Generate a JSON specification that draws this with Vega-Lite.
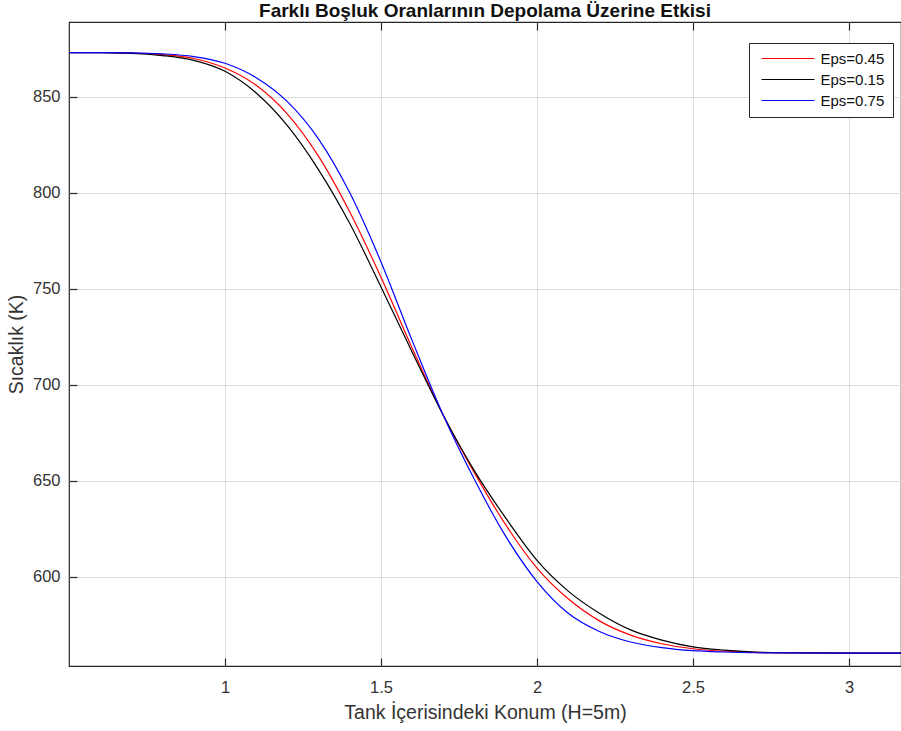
{
  "$schema": "https://vega.github.io/schema/vega-lite/v6.json",
  "width": 832,
  "height": 644,
  "autosize": {"type": "none"},
  "padding": {"left": 69, "top": 22, "right": 0, "bottom": 65},
  "background": "white",
  "title": {
    "text": "Farklı Boşluk Oranlarının Depolama Üzerine Etkisi",
    "font": "Liberation Sans",
    "fontSize": 19,
    "fontWeight": "bold",
    "color": "#111111",
    "anchor": "middle",
    "offset": 5,
    "dy": 5
  },
  "config": {
    "view": {"stroke": "#262626", "strokeWidth": 1.2},
    "font": "Liberation Sans"
  },
  "data": {
    "values": [
      {"x": 0.5, "T": 873, "eps": "Eps=0.45"},
      {"x": 0.6, "T": 873, "eps": "Eps=0.45"},
      {"x": 0.7, "T": 872.8, "eps": "Eps=0.45"},
      {"x": 0.8, "T": 872, "eps": "Eps=0.45"},
      {"x": 0.9, "T": 870, "eps": "Eps=0.45"},
      {"x": 1.0, "T": 865, "eps": "Eps=0.45"},
      {"x": 1.1, "T": 856, "eps": "Eps=0.45"},
      {"x": 1.2, "T": 841, "eps": "Eps=0.45"},
      {"x": 1.3, "T": 819, "eps": "Eps=0.45"},
      {"x": 1.4, "T": 790, "eps": "Eps=0.45"},
      {"x": 1.5, "T": 756, "eps": "Eps=0.45"},
      {"x": 1.6, "T": 719, "eps": "Eps=0.45"},
      {"x": 1.7, "T": 684, "eps": "Eps=0.45"},
      {"x": 1.8, "T": 654, "eps": "Eps=0.45"},
      {"x": 1.9, "T": 627, "eps": "Eps=0.45"},
      {"x": 2.0, "T": 604.5, "eps": "Eps=0.45"},
      {"x": 2.1, "T": 588.5, "eps": "Eps=0.45"},
      {"x": 2.2, "T": 577, "eps": "Eps=0.45"},
      {"x": 2.3, "T": 569.6, "eps": "Eps=0.45"},
      {"x": 2.4, "T": 565.1, "eps": "Eps=0.45"},
      {"x": 2.5, "T": 562.5, "eps": "Eps=0.45"},
      {"x": 2.6, "T": 561.2, "eps": "Eps=0.45"},
      {"x": 2.7, "T": 560.6, "eps": "Eps=0.45"},
      {"x": 2.8, "T": 560.3, "eps": "Eps=0.45"},
      {"x": 3.0, "T": 560.2, "eps": "Eps=0.45"},
      {"x": 3.2, "T": 560.2, "eps": "Eps=0.45"},

      {"x": 0.5, "T": 873, "eps": "Eps=0.15"},
      {"x": 0.6, "T": 873, "eps": "Eps=0.15"},
      {"x": 0.7, "T": 872.7, "eps": "Eps=0.15"},
      {"x": 0.8, "T": 871.5, "eps": "Eps=0.15"},
      {"x": 0.9, "T": 869, "eps": "Eps=0.15"},
      {"x": 1.0, "T": 863.3, "eps": "Eps=0.15"},
      {"x": 1.1, "T": 852, "eps": "Eps=0.15"},
      {"x": 1.2, "T": 835, "eps": "Eps=0.15"},
      {"x": 1.3, "T": 812, "eps": "Eps=0.15"},
      {"x": 1.4, "T": 784, "eps": "Eps=0.15"},
      {"x": 1.5, "T": 751, "eps": "Eps=0.15"},
      {"x": 1.6, "T": 717, "eps": "Eps=0.15"},
      {"x": 1.7, "T": 684, "eps": "Eps=0.15"},
      {"x": 1.8, "T": 655, "eps": "Eps=0.15"},
      {"x": 1.9, "T": 630.5, "eps": "Eps=0.15"},
      {"x": 2.0, "T": 608.5, "eps": "Eps=0.15"},
      {"x": 2.1, "T": 592.5, "eps": "Eps=0.15"},
      {"x": 2.2, "T": 581, "eps": "Eps=0.15"},
      {"x": 2.3, "T": 572.3, "eps": "Eps=0.15"},
      {"x": 2.4, "T": 567, "eps": "Eps=0.15"},
      {"x": 2.5, "T": 563.5, "eps": "Eps=0.15"},
      {"x": 2.6, "T": 561.8, "eps": "Eps=0.15"},
      {"x": 2.7, "T": 560.8, "eps": "Eps=0.15"},
      {"x": 2.8, "T": 560.4, "eps": "Eps=0.15"},
      {"x": 3.0, "T": 560.2, "eps": "Eps=0.15"},
      {"x": 3.2, "T": 560.2, "eps": "Eps=0.15"},

      {"x": 0.5, "T": 873, "eps": "Eps=0.75"},
      {"x": 0.6, "T": 873, "eps": "Eps=0.75"},
      {"x": 0.7, "T": 872.9, "eps": "Eps=0.75"},
      {"x": 0.8, "T": 872.4, "eps": "Eps=0.75"},
      {"x": 0.9, "T": 871, "eps": "Eps=0.75"},
      {"x": 1.0, "T": 867.5, "eps": "Eps=0.75"},
      {"x": 1.1, "T": 860, "eps": "Eps=0.75"},
      {"x": 1.2, "T": 847.5, "eps": "Eps=0.75"},
      {"x": 1.3, "T": 828, "eps": "Eps=0.75"},
      {"x": 1.4, "T": 800, "eps": "Eps=0.75"},
      {"x": 1.5, "T": 764, "eps": "Eps=0.75"},
      {"x": 1.6, "T": 723, "eps": "Eps=0.75"},
      {"x": 1.7, "T": 684, "eps": "Eps=0.75"},
      {"x": 1.8, "T": 650.5, "eps": "Eps=0.75"},
      {"x": 1.9, "T": 621, "eps": "Eps=0.75"},
      {"x": 2.0, "T": 597.5, "eps": "Eps=0.75"},
      {"x": 2.1, "T": 581, "eps": "Eps=0.75"},
      {"x": 2.2, "T": 571.5, "eps": "Eps=0.75"},
      {"x": 2.3, "T": 566, "eps": "Eps=0.75"},
      {"x": 2.4, "T": 563.1, "eps": "Eps=0.75"},
      {"x": 2.5, "T": 561.5, "eps": "Eps=0.75"},
      {"x": 2.6, "T": 560.8, "eps": "Eps=0.75"},
      {"x": 2.7, "T": 560.4, "eps": "Eps=0.75"},
      {"x": 2.8, "T": 560.3, "eps": "Eps=0.75"},
      {"x": 3.0, "T": 560.2, "eps": "Eps=0.75"},
      {"x": 3.2, "T": 560.2, "eps": "Eps=0.75"}
    ]
  },
  "layer": [
    {
      "mark": {"type": "line", "strokeWidth": 1.2, "interpolate": "monotone", "clip": true},
      "encoding": {
        "x": {
          "field": "x",
          "type": "quantitative",
          "scale": {"domain": [0.5, 3.1667], "nice": false, "zero": false},
          "axis": {
            "orient": "bottom",
            "values": [1, 1.5, 2, 2.5, 3],
            "format": ".1~f",
            "title": "Tank İçerisindeki Konum (H=5m)",
            "titleFontSize": 19.5,
            "titleFontWeight": "normal",
            "titleColor": "#333333",
            "titlePadding": 8,
            "labelFontSize": 16.5,
            "labelColor": "#333333",
            "labelPadding": 21,
            "tickSize": -8,
            "tickColor": "#262626",
            "tickWidth": 1.2,
            "domain": false,
            "grid": true,
            "gridColor": "#dcdcdc",
            "gridWidth": 1
          }
        },
        "y": {
          "field": "T",
          "type": "quantitative",
          "scale": {"domain": [553.5, 889], "nice": false, "zero": false},
          "axis": {
            "values": [600, 650, 700, 750, 800, 850],
            "title": "Sıcaklık (K)",
            "titleFontSize": 19.5,
            "titleFontWeight": "normal",
            "titleColor": "#333333",
            "titlePadding": 6,
            "labelFontSize": 16.5,
            "labelColor": "#333333",
            "labelPadding": 17,
            "tickSize": -8,
            "tickColor": "#262626",
            "tickWidth": 1.2,
            "domain": false,
            "grid": true,
            "gridColor": "#dcdcdc",
            "gridWidth": 1
          }
        },
        "color": {
          "field": "eps",
          "type": "nominal",
          "scale": {
            "domain": ["Eps=0.45", "Eps=0.15", "Eps=0.75"],
            "range": ["#ff0000", "#000000", "#0000ff"]
          },
          "legend": {
            "title": null,
            "orient": "none",
            "legendX": 680,
            "legendY": 21,
            "padding": 8,
            "rowPadding": 5,
            "strokeColor": "#262626",
            "fillColor": "white",
            "symbolType": "M-5,0H5",
            "symbolSize": 112.4,
            "symbolOffset": 23.5,
            "symbolStrokeWidth": 1.2,
            "labelFontSize": 15,
            "labelColor": "#111111",
            "labelOffset": 25
          }
        }
      }
    },
    {
      "mark": {"type": "line", "strokeOpacity": 0},
      "encoding": {
        "x": {
          "field": "x",
          "type": "quantitative",
          "axis": {
            "orient": "top",
            "values": [1, 1.5, 2, 2.5, 3],
            "title": null,
            "labels": false,
            "domain": false,
            "grid": false,
            "tickSize": -8,
            "tickColor": "#262626",
            "tickWidth": 1.2
          }
        },
        "y": {"field": "T", "type": "quantitative"},
        "detail": {"field": "eps"}
      }
    }
  ]
}
